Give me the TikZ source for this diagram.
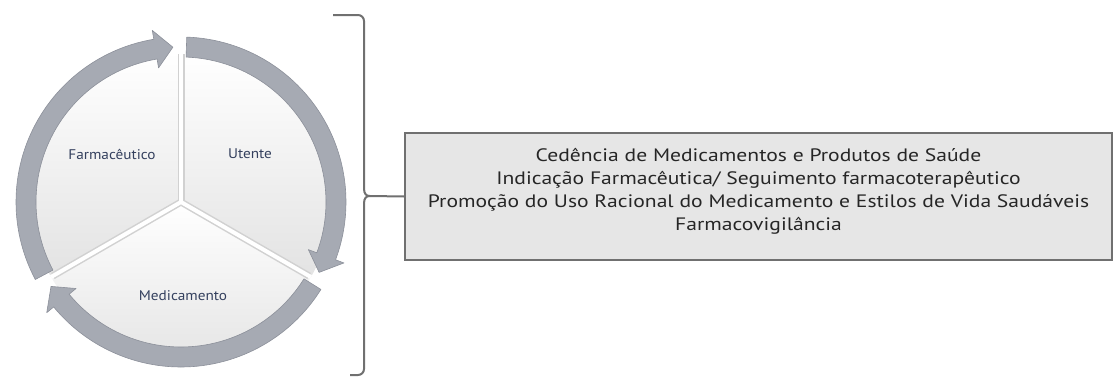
\documentclass[tikz,border=0pt]{standalone}
\usepackage{fontspec}
\setmainfont{PT Sans}
\newfontfamily\boxfont[FakeStretch=1.2]{PT Sans}
\newfontfamily\lblfont[FakeStretch=1.09]{PT Sans}
\begin{document}
\begin{tikzpicture}[x=1pt,y=1pt]
\useasboundingbox (0,0) rectangle (1115,376);
\definecolor{ringc}{RGB}{166,170,179}
\definecolor{ringd}{RGB}{140,144,154}
\definecolor{txt}{RGB}{52,64,94}
\definecolor{boxfill}{RGB}{230,230,230}
\definecolor{boxline}{RGB}{112,112,112}
\tikzset{
 ringarrow/.style={fill=ringc, draw=ringd, line width=0.6pt, line join=round},
 sector/.style={top color=white, bottom color=black!11, draw=none},
 spoke/.style={white, line width=4pt},
 spokeshadow/.style={black!18, line width=7pt},
 lbl/.style={text=txt, font=\lblfont\fontsize{14}{16}\selectfont},
 infobox/.style={draw=boxline, line width=2pt, fill=boxfill, minimum width=707pt, minimum height=127pt, inner sep=0pt},
 infotext/.style={align=center, text=black!85, font=\boxfont\fontsize{18}{23}\selectfont},
 brace/.style={draw=boxline, line width=2pt}
}
\begin{scope}[shift={(181,174)}]
  \coordinate (c) at (0,0);
  % sectors
  \path[sector] (c) -- (90:150pt) arc[start angle=90,end angle=210,radius=150pt] -- cycle;
  \path[sector] (c) -- (210:150pt) arc[start angle=210,end angle=330,radius=150pt] -- cycle;
  \path[sector] (c) -- (330:150pt) arc[start angle=330,end angle=450,radius=150pt] -- cycle;
  % spokes
  \foreach \a in {90,210,330}{
    \draw[spokeshadow] (c) -- (\a:148pt);
  }
  \foreach \a in {90,210,330}{
    \draw[spoke] (c) -- (\a:150pt);
  }
  % ring arrows
  \foreach \t/\p in {208/93, 88/-27, -32/-147}{
    \pgfmathsetmacro{\h}{\p+6.5}
    \path[ringarrow] (\t:165pt) arc[start angle=\t, end angle=\h, radius=165pt]
      -- (\h:174pt) -- (\p:155pt) -- (\h:136pt) -- (\h:145pt)
      arc[start angle=\h, end angle=\t, radius=145pt] -- cycle;
  }
\end{scope}
\node[lbl] (farm) at (112,222) {Farmacêutico};
\node[lbl] (utente) at (250,222) {Utente};
\node[lbl] (med) at (183,80) {Medicamento};
% box
\node[infobox] (box) at (758.5,179.5) {};
\node[infotext] (boxtext) at (758.5,184.5) {Cedência de Medicamentos e Produtos de Saúde\\
Indicação Farmacêutica/ Seguimento farmacoterapêutico\\
Promoção do Uso Racional do Medicamento e Estilos de Vida Saudáveis\\
Farmacovigilância};
% brace
\coordinate (tip) at (370,180);
\draw[brace] (333,361) -- (358,361) arc[start angle=90,end angle=0,radius=6pt]
  -- (364,188) .. controls (364,182) and (366,180) .. (tip)
  .. controls (366,180) and (364,178) .. (364,172)
  -- (364,7) arc[start angle=0,end angle=-90,radius=6pt] -- (350,1);
\draw[brace] (tip) -- (box.west);
\end{tikzpicture}
\end{document}
